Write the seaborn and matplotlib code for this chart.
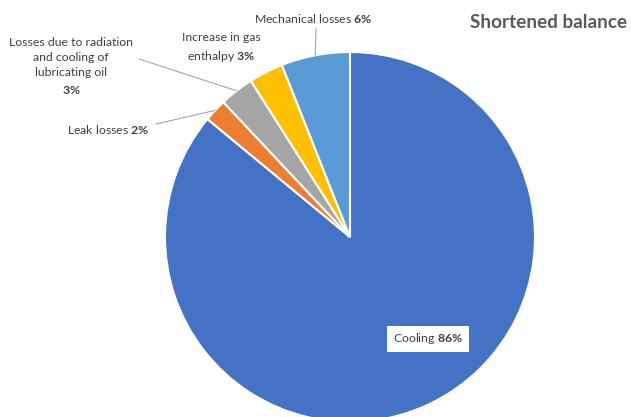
import numpy as np
import matplotlib.pyplot as plt
import seaborn as sns

categories = ['Cooling', 'Leak losses',
              'Losses due to radiation\nand cooling of\nlubricating oil\n',
              'Increase in gas\nenthalpy ', 'Mechanical losses ']
shares = [86, 2, 3, 3, 6]
colors = ['#4472C4', '#ED7D31', '#A5A5A5', '#FFC000', '#5B9BD5']

# layout in pixels (centre of pie, radius, label centres, leader line starts)
CX, CY, R = 350, 237, 185
W, H = 631, 417
label_pos = [(428, 339), (108, 130), (71, 66), (221, 48), (313, 18)]
leader_start = [None, (156, 124), (139, 59), None, (316, 28)]


def px(x, y):
    return (x - CX) / R, (CY - y) / R


sns.set_theme(style='white')
plt.rcParams['font.family'] = ['Lato', 'DejaVu Sans']
plt.rcParams['mathtext.fontset'] = 'custom'
plt.rcParams['mathtext.rm'] = 'Lato'
plt.rcParams['mathtext.bf'] = 'Lato:bold'

fig = plt.figure(figsize=(W / 100, H / 100), dpi=100)
ax = fig.add_axes([0, 0, 1, 1])

wedges, _ = ax.pie(shares, colors=colors, startangle=90, counterclock=False,
                   wedgeprops=dict(edgecolor='white', linewidth=1.5))
ax.set_xlim(-CX / R, (W - CX) / R)
ax.set_ylim(-(H - CY) / R, CY / R)

for i, (w, name, val) in enumerate(zip(wedges, categories, shares)):
    sep = ' ' if i < 2 else ''
    txt = f'{name}{sep}$\\bf{{{val}\\%}}$'
    lx, ly = px(*label_pos[i])
    if i == 0:
        ax.text(lx, ly, txt, ha='center', va='center', fontsize=8.8, color='#404040',
                bbox=dict(facecolor='white', edgecolor='none', boxstyle='square,pad=0.45'))
    else:
        ax.text(lx, ly, txt, ha='center', va='center', fontsize=8.8, color='#404040',
                multialignment='center', linespacing=1.5)
    if leader_start[i] is not None:
        mid = np.deg2rad((w.theta1 + w.theta2) / 2)
        ex, ey = np.cos(mid), np.sin(mid)
        sx, sy = px(*leader_start[i])
        ax.plot([sx, ex], [sy, ey], color='#A6A6A6', lw=0.8)

fig.text(627 / W, 1 - 23 / H, 'Shortened balance', ha='right', va='center',
         fontsize=13.6, fontweight='bold', color='#595959')

fig.savefig('out.png', dpi=100)
